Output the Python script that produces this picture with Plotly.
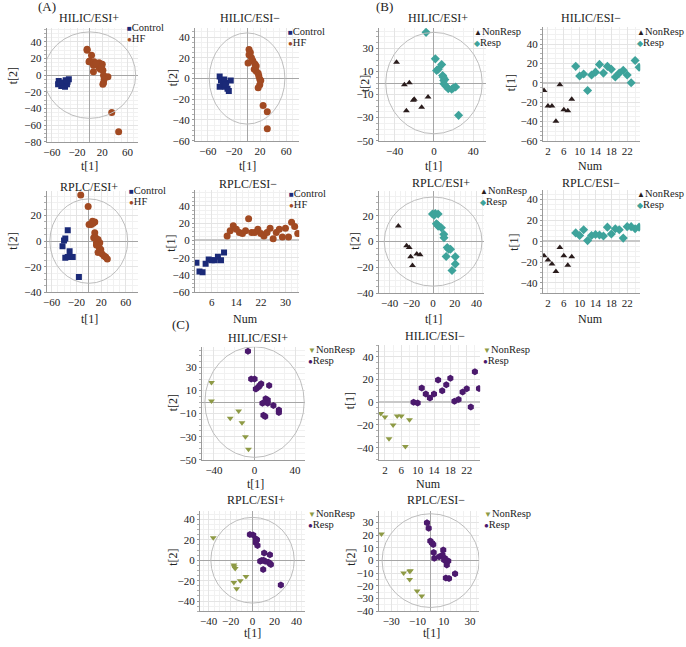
import plotly.graph_objects as go

W, H = 686, 647
FONT = "Liberation Serif, Times New Roman, serif"

C_CTRL = "#1b2a78"
C_HF = "#a24a22"
C_NONB = "#2a1c1c"
C_RESPB = "#3ea39b"
C_NONC = "#8e9a45"
C_RESPC = "#4b196d"

# ---------------- data ----------------
# (A) HILIC/ESI+
a1_ctrl_x = [-49, -47, -44, -39, -36, -33, -42, -50, -45, -35, -38, -46]
a1_ctrl_y = [-7, -10, -12, -14, -11, -5, -9, -11, -13, -8, -6, -9]
a1_hf_x = [-4, -4, 3, 0, -1, 7, 6, 15, 17, 15, 17, 20, 6, 21, 22, 29, 23, 22, 21, 35, 46, 10, 19]
a1_hf_y = [31, 30, 24, 17, 16, 16, 12, 15, 13, 9, 7, 13, 4, 6, 0, -2, -5, -9, -11, -45, -68, 14, 10]
# (A) HILIC/ESI-
a2_ctrl_x = [-42, -40, -42, -37, -34, -32, -30, -28, -25, -35, -33]
a2_ctrl_y = [2, -2, -8, -5, -8, -4, -10, -12, -2, -1, -6]
a2_hf_x = [3, 5, 3, 1.5, 9, 12, 11, 14, 17, 18, 19.5, 21, 19.5, 17, 24.6, 31, 31, 6.7, 14]
a2_hf_y = [28, 25, 23, 15, 17, 14, 9, 7, 5, 2.5, -0.6, -2, -6, -9, -26, -32, -48.5, 20, 12]
# (A) RPLC/ESI+
a3_ctrl_x = [-34, -38, -40, -42.5, -31, -26, -38, -34, -16]
a3_ctrl_y = [8.5, 2, 0.5, -4, -8, -12.4, -13, -12.4, -28]
a3_hf_x = [-13, -1, 0.5, 4, 6, 9.7, 9.7, 8, 11, 15, 12.4, 17.8, 16.7, 19.4, 15, 21.5, 24.8, 27.4, 30, 12.4, 7]
a3_hf_y = [36, 27, 13, 13, 15.5, 15, 6.5, 2.6, 2.6, 1.3, -1.3, -1.3, -5, -6.5, -9, -10, -11.6, -12.4, -14, -3, 14]
# (A) RPLC/ESI-  (t[1] vs sample number)
a4_ctrl_num = list(range(1, 11))
a4_ctrl_y = [-26, -36, -37, -27, -22, -23, -23, -19, -23, -14]
a4_hf_num = list(range(11, 35))
a4_hf_y = [5, 11, 17, 13, 9, 8, 11, 25, 9, 9, 13, 8, 5, 9, 14, 2, 9, 13, 4, 14, 4, 21, 16, 8]

# (B) HILIC/ESI+
b1_non_x = [-38, -30, -25, -20, -21, -6, -12.5, -28]
b1_non_y = [18, -1.4, 0.3, -14, -15, -12, -21, -24]
b1_resp_x = [-8, 1.4, 2.7, 4.4, 7.8, 8.8, 9.5, 11, 10, 12, 14.5, 18, 19.6, 22, 25, 10]
b1_resp_y = [44, 21, 11, 12, 16, 6.6, 5, 3, -0.6, -2.6, -5, -5.4, -4.3, -3.4, -28, 2.3]
# (B) HILIC/ESI-
b2_non_num = list(range(1, 9))
b2_non_y = [-8, -24, -24, -40, -2, -28, -29, -17]
b2_resp_num = list(range(9, 26))
b2_resp_y = [17, 7, 9, -8, 8, 11, 19, 10, 17, 14, 6, 10, 13, 8, 0, 23, 16]
# (B) RPLC/ESI+
b3_non_x = [-32, -24.4, -22, -20.7, -19, -15, -12]
b3_non_y = [12, -3.3, -4.6, -11.7, -18.6, -9.7, -10.2]
b3_resp_x = [-0.6, 2, 4.6, 3, 4.6, 7.6, 9.8, 10, 13, 14.3, 16, 12, 20.4, 20.4, 17.4, 1, 4]
b3_resp_y = [21.4, 21.7, 21.4, 13.8, 12, 10.7, 5.6, 3, -4.6, -5.9, -5.9, -11.5, -11.7, -17.3, -22.4, 20.4, 13]
# (B) RPLC/ESI-
b4_non_num = list(range(1, 9))
b4_non_y = [-14, -18, -22, -29, -6, -14, -23, -15]
b4_resp_num = list(range(9, 26))
b4_resp_y = [8, 5.5, 11, 0.6, 5.5, 6.5, 6, 5, 13.5, 7, 12, 11, 3, 14, 14, 12, 13.5]

# (C) HILIC/ESI+
c1_non_x = [-42.5, -42.5, -24, -15.7, -12.4, -9, -6]
c1_non_y = [17, 1, -14, -7.7, -18, -30, -41]
c1_resp_x = [-6.5, -3.3, 0, 1.3, 4, 6.5, 14.4, 11, 13, 7.8, 13, 18.6, 24, 24, 8.8, 10.5, 5]
c1_resp_y = [44, 20, 20, 11.4, 13, 16, 14.3, 2.9, 1.7, -1.1, -1.1, -2.9, -6.9, -9, -11.4, -12.6, 14.3]
# (C) HILIC/ESI-
c2_non_num = list(range(1, 9))
c2_non_y = [-10, -13, -32, -20, -12, -12, -39, -15.5]
c2_resp_num = list(range(9, 26))
c2_resp_y = [0, -0.6, 12.4, 7.2, 3.7, 7.2, 19.6, 10, 15.3, 21, 0.9, 2.3, 9, 11.8, -4.3, 26.8, 12]
# (C) RPLC/ESI+
c3_non_x = [-35.8, -17, -15.8, -17, -11.2, -6, -14.5, -16.7]
c3_non_y = [22, -4.8, -8, -21.8, -20, -16, -28, -6.4]
c3_resp_x = [-2.4, 0.6, 4, 3, 4.5, 10.6, 15.8, 8.2, 10, 11.5, 14.5, 15.8, 16.7, 9.7, 25.8, 7, 3]
c3_resp_y = [25.3, 24.6, 20, 17, 14.4, 7, 5.4, -0.3, 0, -1, -1.9, -3.2, -4.2, -9, -24.3, -1, 20.8]
# (C) RPLC/ESI-
c4_non_x = [-37.5, -20.6, -16, -15.4, -16, -10.3, -6.8]
c4_non_y = [21, -9.8, -8.5, -8, -15, -24, -28]
c4_resp_x = [-2.8, -1.5, -0.25, 1, 2, 2.3, 2.8, 6.5, 9.6, 9, 10.8, 12, 13.4, 12.3, 11.6, 14, 18.6, 10.3]
c4_resp_y = [29.8, 25.6, 15.5, 14, 12.7, 6.5, 1.8, 3, 8.3, 4.4, 1.8, 0, -0.3, -3.4, -13.7, -14.2, -10.4, 0.5]

# ---------------- layout of panels (pixel boxes) ----------------
S_CTRL = ("Control", C_CTRL, "square", "\u25A0")
S_HF = ("HF", C_HF, "circle", "\u25CF")
S_NONB = ("NonResp", C_NONB, "triangle-up", "\u25B2")
S_RESPB = ("Resp", C_RESPB, "diamond", "\u25C6")
S_NONC = ("NonResp", C_NONC, "triangle-down", "\u25BC")
S_RESPC = ("Resp", C_RESPC, "hexagon", "\u25CF")

panels = [
    dict(box=(43, 28, 135, 143), xr=[-68, 77], yr=[-80, 57], xt=(-60, 40, 10), yt=(-80, 20, 5), ell=(73, 52),
         title="HILIC/ESI+", tpos=(86, 18), xl="t[1]", xlpos=(86, 168), yl="t[2]", ylpos=(9, 76), leg=(123, 28),
         series=[(S_CTRL, a1_ctrl_x, a1_ctrl_y), (S_HF, a1_hf_x, a1_hf_y)]),
    dict(box=(192, 28, 297, 142), xr=[-80, 80], yr=[-60, 49], xt=(-60, 40, 10), yt=(-60, 20, 5), ell=(58, 44),
         title="HILIC/ESI\u2212", tpos=(247, 18), xl="t[1]", xlpos=(245, 168), yl="t[2]", ylpos=(170, 79), leg=(285, 32),
         series=[(S_CTRL, a2_ctrl_x, a2_ctrl_y), (S_HF, a2_hf_x, a2_hf_y)]),
    dict(box=(377, 28, 485, 142), xr=[-56, 53], yr=[-50, 48], xt=(-40, 40, 10), yt=(-50, 20, 5), ell=(49, 44),
         title="HILIC/ESI+", tpos=(437, 18), xl="t[1]", xlpos=(432, 168), yl="t[2]", ylpos=(363, 84), leg=(472, 32),
         series=[(S_NONB, b1_non_x, b1_non_y), (S_RESPB, b1_resp_x, b1_resp_y)]),
    dict(box=(542, 27, 640, 142), xr=[0.7, 25.3], yr=[-60, 58], xt=(2, 4, 2), yt=(-60, 20, 5), ell=None,
         title="HILIC/ESI\u2212", tpos=(590, 18), xl="Num", xlpos=(590, 168), yl="t[1]", ylpos=(510, 84), leg=(636, 32),
         series=[(S_NONB, b2_non_num, b2_non_y), (S_RESPB, b2_resp_num, b2_resp_y)]),
    dict(box=(43, 193, 135, 295), xr=[-68, 80], yr=[-40, 39], xt=(-60, 40, 10), yt=(-40, 20, 5), ell=(63, 33),
         title="RPLC/ESI+", tpos=(86, 189), xl="t[1]", xlpos=(86, 322), yl="t[2]", ylpos=(9, 243), leg=(125, 192),
         series=[(S_CTRL, a3_ctrl_x, a3_ctrl_y), (S_HF, a3_hf_x, a3_hf_y)]),
    dict(box=(192, 192, 297, 295), xr=[0.5, 34.5], yr=[-60, 58], xt=(6, 8, 2), yt=(-60, 20, 5), ell=None,
         title="RPLC/ESI\u2212", tpos=(245, 186), xl="Num", xlpos=(243, 322), yl="t[1]", ylpos=(168, 246), leg=(286, 195),
         series=[(S_CTRL, a4_ctrl_num, a4_ctrl_y), (S_HF, a4_hf_num, a4_hf_y)]),
    dict(box=(377, 193, 483, 296), xr=[-50, 47], yr=[-40, 39], xt=(-40, 20, 5), yt=(-40, 20, 5), ell=(45, 34.5),
         title="RPLC/ESI+", tpos=(440, 185), xl="t[1]", xlpos=(432, 322), yl="t[2]", ylpos=(353, 243), leg=(478, 192),
         series=[(S_NONB, b3_non_x, b3_non_y), (S_RESPB, b3_resp_x, b3_resp_y)]),
    dict(box=(542, 192, 640, 296), xr=[0.7, 25.3], yr=[-50, 49], xt=(2, 4, 2), yt=(-40, 20, 5), ell=None,
         title="RPLC/ESI\u2212", tpos=(590, 185), xl="Num", xlpos=(590, 322), yl="t[1]", ylpos=(513, 245), leg=(636, 195),
         series=[(S_NONB, b4_non_num, b4_non_y), (S_RESPB, b4_resp_num, b4_resp_y)]),
    dict(box=(199, 350, 303, 464), xr=[-52, 50], yr=[-50, 48], xt=(-40, 40, 10), yt=(-50, 20, 5), ell=(49, 48),
         title="HILIC/ESI+", tpos=(255, 341), xl="t[1]", xlpos=(253, 489), yl="t[2]", ylpos=(170, 407), leg=(305, 353),
         series=[(S_NONC, c1_non_x, c1_non_y), (S_RESPC, c1_resp_x, c1_resp_y)]),
    dict(box=(377, 348, 479, 464), xr=[0.5, 25.3], yr=[-50.5, 50.5], xt=(2, 4, 2), yt=(-40, 20, 5), ell=None,
         title="HILIC/ESI\u2212", tpos=(434, 339), xl="Num", xlpos=(427, 489), yl="t[1]", ylpos=(348, 404), leg=(481, 353),
         series=[(S_NONC, c2_non_num, c2_non_y), (S_RESPC, c2_resp_num, c2_resp_y)]),
    dict(box=(197, 516, 303, 617), xr=[-48, 48], yr=[-50, 48], xt=(-40, 20, 5), yt=(-40, 20, 5), ell=(38, 42),
         title="RPLC/ESI+", tpos=(253, 505), xl="t[1]", xlpos=(250, 647), yl="t[2]", ylpos=(170, 563), leg=(305, 518),
         series=[(S_NONC, c3_non_x, c3_non_y), (S_RESPC, c3_resp_x, c3_resp_y)]),
    dict(box=(377, 516, 478, 617), xr=[-39.5, 37], yr=[-40, 39], xt=(-30, 20, 5), yt=(-40, 10, 5), ell=(37, 37),
         title="RPLC/ESI\u2212", tpos=(435, 505), xl="t[1]", xlpos=(430, 647), yl="t[2]", ylpos=(349, 562), leg=(482, 518),
         series=[(S_NONC, c4_non_x, c4_non_y), (S_RESPC, c4_resp_x, c4_resp_y)]),
]

panel_labels = [("(A)", 43, 7), ("(B)", 383, 7), ("(C)", 178, 328)]


def fx(p):
    return p / W


def fy(p):
    return 1 - p / H


fig = go.Figure()
annotations = []
shapes = []
AX_COLOR = "#9a9a9a"

for i, p in enumerate(panels, start=1):
    suf = "" if i == 1 else str(i)
    xref, yref = "x" + suf, "y" + suf
    x0, y0, x1, y1 = p["box"]
    is_num = p["ell"] is None
    for (name, color, symbol, glyph), xs, ys in p["series"]:
        size = {"diamond": 7, "circle": 7, "hexagon": 7}.get(symbol, 6)
        fig.add_trace(go.Scatter(
            x=xs, y=ys, mode="markers", name=name, showlegend=False,
            xaxis=xref, yaxis=yref,
            marker=dict(color=color, symbol=symbol, size=size, line=dict(width=0)),
        ))
    base = dict(
        showline=True, linecolor=AX_COLOR, linewidth=1, tickcolor=AX_COLOR,
        showgrid=True, gridcolor="#e4e4e4", gridwidth=1,
        tickfont=dict(family=FONT, size=11, color="#222"), fixedrange=True,
        zerolinecolor="#a6a6a6", zerolinewidth=1,
    )
    xt0, xdt, xminor = p["xt"]
    yt0, ydt, yminor = p["yt"]
    fig.layout["xaxis" + suf] = dict(
        base, domain=[fx(x0), fx(x1)], range=p["xr"], anchor=yref, ticks="",
        tickmode="linear", tick0=xt0, dtick=xdt, zeroline=not is_num,
        minor=dict(tick0=xt0, dtick=xminor, showgrid=True, gridcolor="#f1f1f1"),
    )
    fig.layout["yaxis" + suf] = dict(
        base, domain=[fy(y1), fy(y0)], range=p["yr"], anchor=xref, ticks="outside", ticklen=2,
        tickmode="linear", tick0=yt0, dtick=ydt, zeroline=True,
        zerolinecolor="#c8c8c8" if is_num else "#a6a6a6", zerolinewidth=2 if is_num else 1,
        minor=dict(tick0=yt0, dtick=yminor, showgrid=True, gridcolor="#f1f1f1", ticks="outside", ticklen=2, tickcolor="#b0b0b0"),
    )
    if not is_num:
        rx, ry = p["ell"]
        shapes.append(dict(type="circle", xref=xref, yref=yref, x0=-rx, x1=rx, y0=-ry, y1=ry,
                           line=dict(color="#bdbdbd", width=1), layer="above"))
    # title
    tx, ty = p["tpos"]
    annotations.append(dict(text=p["title"], x=fx(tx), y=fy(ty), xref="paper", yref="paper",
                            showarrow=False, xanchor="center", yanchor="middle", borderpad=0,
                            font=dict(family=FONT, size=12, color="#222")))
    # axis titles
    lx, ly = p["xlpos"]
    annotations.append(dict(text=p["xl"], x=fx(lx), y=fy(ly), xref="paper", yref="paper", borderpad=0,
                            showarrow=False, xanchor="center", yanchor="bottom" if ly >= H else "middle",
                            font=dict(family=FONT, size=12, color="#222")))
    lx, ly = p["ylpos"]
    annotations.append(dict(text=p["yl"], x=fx(lx), y=fy(ly), xref="paper", yref="paper", textangle=-90,
                            showarrow=False, xanchor="center", yanchor="middle", borderpad=0,
                            font=dict(family=FONT, size=12, color="#222")))
    # legend
    gx, gy = p["leg"]
    for k, ((name, color, symbol, glyph), _, _) in enumerate(p["series"]):
        annotations.append(dict(
            text=f'<span style="color:{color};font-size:8px">{glyph}</span>{name}',
            x=fx(gx), y=fy(gy + 11 * k), xref="paper", yref="paper", borderpad=0,
            showarrow=False, xanchor="left", yanchor="middle",
            font=dict(family=FONT, size=10.5, color="#222")))

for txt, px, py in panel_labels:
    annotations.append(dict(text=txt, x=fx(px), y=fy(py), xref="paper", yref="paper",
                            showarrow=False, xanchor="center", yanchor="middle", borderpad=0,
                            font=dict(family=FONT, size=13, color="#222")))

fig.update_layout(
    width=W, height=H, margin=dict(l=0, r=0, t=0, b=0, pad=0),
    paper_bgcolor="white", plot_bgcolor="white", showlegend=False,
    annotations=annotations, shapes=shapes,
    font=dict(family=FONT, size=11, color="#222"),
)

fig.write_html("out.html", config={"displayModeBar": False},
               post_script="document.body.style.margin='0';document.body.style.overflow='hidden';")
